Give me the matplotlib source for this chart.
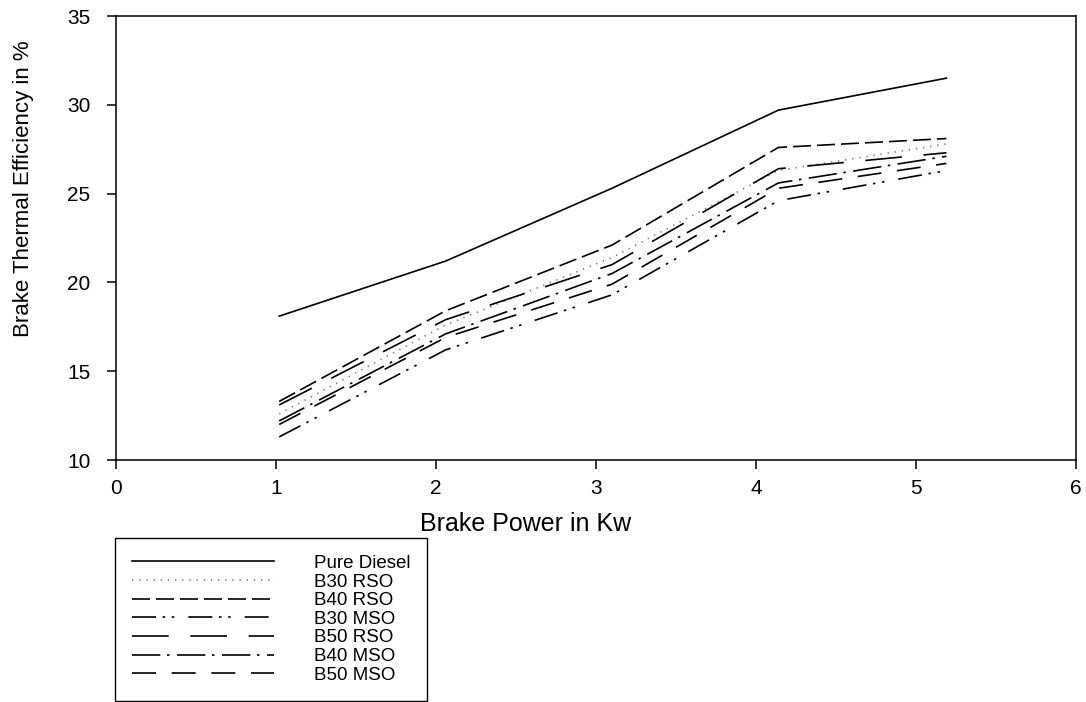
import matplotlib
matplotlib.use("Agg")
import matplotlib.pyplot as plt

plt.rcParams['font.family'] = ['Liberation Sans', 'DejaVu Sans']

# brake power (kW)
power = [1.02, 2.06, 3.1, 4.14, 5.19]

# brake thermal efficiency (%)
pure_diesel = [18.1, 21.2, 25.3, 29.7, 31.5]
b30_rso = [12.6, 17.6, 21.4, 26.3, 27.8]
b40_rso = [13.3, 18.4, 22.1, 27.6, 28.1]
b30_mso = [11.3, 16.2, 19.3, 24.6, 26.3]
b50_rso = [13.1, 17.9, 21.0, 26.4, 27.3]
b40_mso = [12.2, 17.1, 20.5, 25.6, 27.1]
b50_mso = [12.0, 16.9, 19.9, 25.3, 26.7]

labels = ['Pure Diesel', 'B30 RSO', 'B40 RSO', 'B30 MSO', 'B50 RSO', 'B40 MSO', 'B50 MSO']
series = [pure_diesel, b30_rso, b40_rso, b30_mso, b50_rso, b40_mso, b50_mso]
styles = ['-', (0, (0.8, 3.5)), (0, (10.8, 3.6)), (0, (14.4, 4, 1.5, 4, 1.5, 8.4)),
          (0, (22, 13)), (0, (17, 4, 1.5, 4.5)), (0, (14.4, 9.4))]
colors = ['black', '#9a7070', 'black', 'black', 'black', 'black', 'black']

fig = plt.figure(figsize=(10.86, 7.02), dpi=100)
ax = fig.add_axes([116/1086, 1-460/702, 960/1086, 444/702])

for y, lab, ls, c in zip(series, labels, styles, colors):
    ax.plot(power, y, linestyle=ls, color=c, lw=1.2, label=lab)

ax.set_xlim(0, 6)
ax.set_ylim(10, 35)
ax.set_xticks(range(0, 7))
ax.set_yticks(range(10, 36, 5))
for s in ax.spines.values():
    s.set_linewidth(1.1)
ax.tick_params(direction='out', length=6.5, width=1.1, labelsize=15)
ax.tick_params(axis='y', pad=12)
ax.tick_params(axis='x', pad=7)

ax.set_xlabel('Brake Power in Kw', fontsize=18)
ax.xaxis.set_label_coords(0.427, -0.116)
ax.set_ylabel('Brake Thermal Efficiency in %', fontsize=16)
ax.yaxis.set_label_coords(-0.085, 0.61)

leg = ax.legend(loc='upper left', bbox_to_anchor=(115/1086, 1-538/702),
                bbox_transform=fig.transFigure, borderaxespad=0, fontsize=13.5,
                handlelength=7.6, handletextpad=2.1, labelspacing=0.08,
                borderpad=0.9, fancybox=False, framealpha=1)
leg.get_frame().set_edgecolor('black')
leg.get_frame().set_linewidth(1.0)

fig.savefig('out.png', dpi=100)
